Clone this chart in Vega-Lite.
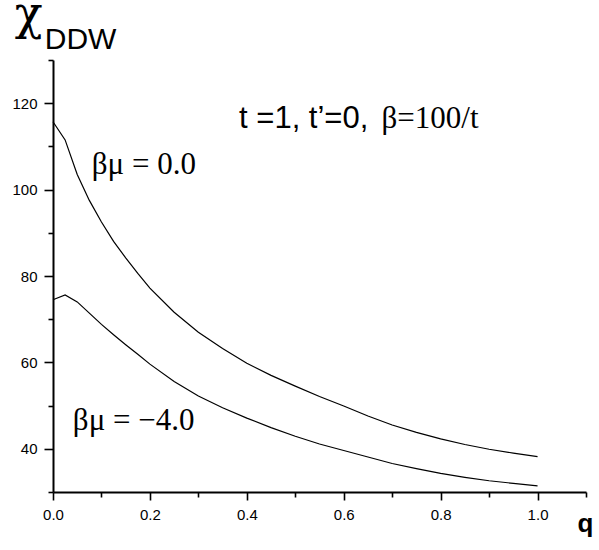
{
  "$schema": "https://vega.github.io/schema/vega-lite/v6.json",
  "width": 533,
  "height": 432,
  "autosize": {"type": "none"},
  "padding": {"left": 53, "top": 60, "right": 13, "bottom": 58},
  "background": "white",
  "config": {"view": {"stroke": null}},
  "layer": [
    {
      "data": {"values": [
        {"series": "mu0", "q": 0, "v": 115.7},
        {"series": "mu0", "q": 0.025, "v": 111.5},
        {"series": "mu0", "q": 0.05, "v": 103.5},
        {"series": "mu0", "q": 0.075, "v": 97.5},
        {"series": "mu0", "q": 0.1, "v": 92.5},
        {"series": "mu0", "q": 0.125, "v": 88.0},
        {"series": "mu0", "q": 0.15, "v": 84.2},
        {"series": "mu0", "q": 0.175, "v": 80.6},
        {"series": "mu0", "q": 0.2, "v": 77.2},
        {"series": "mu0", "q": 0.25, "v": 71.6},
        {"series": "mu0", "q": 0.3, "v": 67.0},
        {"series": "mu0", "q": 0.35, "v": 63.2},
        {"series": "mu0", "q": 0.4, "v": 59.8},
        {"series": "mu0", "q": 0.45, "v": 57.0},
        {"series": "mu0", "q": 0.5, "v": 54.5},
        {"series": "mu0", "q": 0.55, "v": 52.1},
        {"series": "mu0", "q": 0.6, "v": 49.9},
        {"series": "mu0", "q": 0.65, "v": 47.6},
        {"series": "mu0", "q": 0.7, "v": 45.5},
        {"series": "mu0", "q": 0.75, "v": 43.8},
        {"series": "mu0", "q": 0.8, "v": 42.3},
        {"series": "mu0", "q": 0.85, "v": 41.0},
        {"series": "mu0", "q": 0.9, "v": 39.9},
        {"series": "mu0", "q": 0.95, "v": 39.0},
        {"series": "mu0", "q": 1.0, "v": 38.2},
        {"series": "mu-4", "q": 0, "v": 74.5},
        {"series": "mu-4", "q": 0.025, "v": 75.6},
        {"series": "mu-4", "q": 0.05, "v": 74.0},
        {"series": "mu-4", "q": 0.075, "v": 71.4},
        {"series": "mu-4", "q": 0.1, "v": 68.8},
        {"series": "mu-4", "q": 0.125, "v": 66.4},
        {"series": "mu-4", "q": 0.15, "v": 64.1},
        {"series": "mu-4", "q": 0.175, "v": 61.9},
        {"series": "mu-4", "q": 0.2, "v": 59.6},
        {"series": "mu-4", "q": 0.25, "v": 55.6},
        {"series": "mu-4", "q": 0.3, "v": 52.2},
        {"series": "mu-4", "q": 0.35, "v": 49.5},
        {"series": "mu-4", "q": 0.4, "v": 47.1},
        {"series": "mu-4", "q": 0.45, "v": 44.9},
        {"series": "mu-4", "q": 0.5, "v": 42.9},
        {"series": "mu-4", "q": 0.55, "v": 41.1},
        {"series": "mu-4", "q": 0.6, "v": 39.6},
        {"series": "mu-4", "q": 0.65, "v": 38.1},
        {"series": "mu-4", "q": 0.7, "v": 36.6},
        {"series": "mu-4", "q": 0.75, "v": 35.4},
        {"series": "mu-4", "q": 0.8, "v": 34.3},
        {"series": "mu-4", "q": 0.85, "v": 33.4},
        {"series": "mu-4", "q": 0.9, "v": 32.6},
        {"series": "mu-4", "q": 0.95, "v": 32.0},
        {"series": "mu-4", "q": 1.0, "v": 31.4}
      ]},
      "mark": {"type": "line", "color": "black", "strokeWidth": 1.2},
      "encoding": {
        "x": {
          "field": "q", "type": "quantitative",
          "scale": {"domain": [0, 1.1], "nice": false, "zero": false},
          "axis": {
            "values": [0, 0.1, 0.2, 0.3, 0.4, 0.5, 0.6, 0.7, 0.8, 0.9, 1.0, 1.1],
            "format": ".1f",
            "labelExpr": "abs(datum.value*5 - round(datum.value*5)) < 0.001 ? datum.label : ''",
            "tickSize": {"condition": {"test": "abs(datum.value*5 - round(datum.value*5)) < 0.001", "value": 8}, "value": 5},
            "tickWidth": 1.6,
            "tickColor": "black",
            "domainColor": "black",
            "domainWidth": 2,
            "grid": false,
            "labelFont": "Liberation Sans",
            "labelFontSize": 15,
            "labelColor": "black",
            "labelPadding": 7,
            "labelFlush": false,
            "labelOverlap": false,
            "labelBound": false,
            "title": "q",
            "titleFont": "Liberation Sans",
            "titleFontWeight": "bold",
            "titleFontSize": 26,
            "titleColor": "black",
            "titleAngle": 0,
            "titleAlign": "right",
            "titleBaseline": "alphabetic",
            "titleX": 540,
            "titleY": 39
          }
        },
        "y": {
          "field": "v", "type": "quantitative",
          "scale": {"domain": [30, 130], "nice": false, "zero": false},
          "axis": {
            "values": [30, 40, 50, 60, 70, 80, 90, 100, 110, 120, 130],
            "labelExpr": "datum.value % 20 == 0 ? datum.label : ''",
            "tickSize": {"condition": {"test": "datum.value % 20 == 0", "value": 9}, "value": 5},
            "tickWidth": 1.6,
            "tickColor": "black",
            "domainColor": "black",
            "domainWidth": 2,
            "grid": false,
            "labelFont": "Liberation Sans",
            "labelFontSize": 15,
            "labelColor": "black",
            "labelPadding": 7,
            "labelFlush": false,
            "labelOverlap": false,
            "labelBound": false,
            "title": null
          }
        },
        "detail": {"field": "series"}
      }
    },
    {
      "data": {"values": [
        {"q": 0.08, "v": 103.5, "label": "βμ = 0.0"},
        {"q": 0.041, "v": 44.3, "label": "βμ = −4.0"},
        {"q": 0.678, "v": 114.2, "label": "β=100/t"}
      ]},
      "mark": {"type": "text", "font": "Liberation Serif", "fontSize": 31, "align": "left", "baseline": "alphabetic", "color": "black"},
      "encoding": {
        "x": {"field": "q", "type": "quantitative"},
        "y": {"field": "v", "type": "quantitative"},
        "text": {"field": "label"}
      }
    },
    {
      "data": {"values": [
        {"q": 0.384, "v": 114.2, "label": "t =1, t’=0,"}
      ]},
      "mark": {"type": "text", "font": "Liberation Sans", "fontSize": 31, "align": "left", "baseline": "alphabetic", "color": "black"},
      "encoding": {
        "x": {"field": "q", "type": "quantitative"},
        "y": {"field": "v", "type": "quantitative"},
        "text": {"field": "label"}
      }
    },
    {
      "data": {"values": [
        {"q": -0.079, "v": 137.2, "label": "χ"}
      ]},
      "mark": {"type": "text", "font": "DejaVu Serif", "fontSize": 46, "align": "left", "baseline": "alphabetic", "color": "black"},
      "encoding": {
        "x": {"field": "q", "type": "quantitative"},
        "y": {"field": "v", "type": "quantitative"},
        "text": {"field": "label"}
      }
    },
    {
      "data": {"values": [
        {"q": -0.017, "v": 132.6, "label": "DDW"}
      ]},
      "mark": {"type": "text", "font": "Liberation Sans", "fontSize": 30, "align": "left", "baseline": "alphabetic", "color": "black"},
      "encoding": {
        "x": {"field": "q", "type": "quantitative"},
        "y": {"field": "v", "type": "quantitative"},
        "text": {"field": "label"}
      }
    }
  ]
}
